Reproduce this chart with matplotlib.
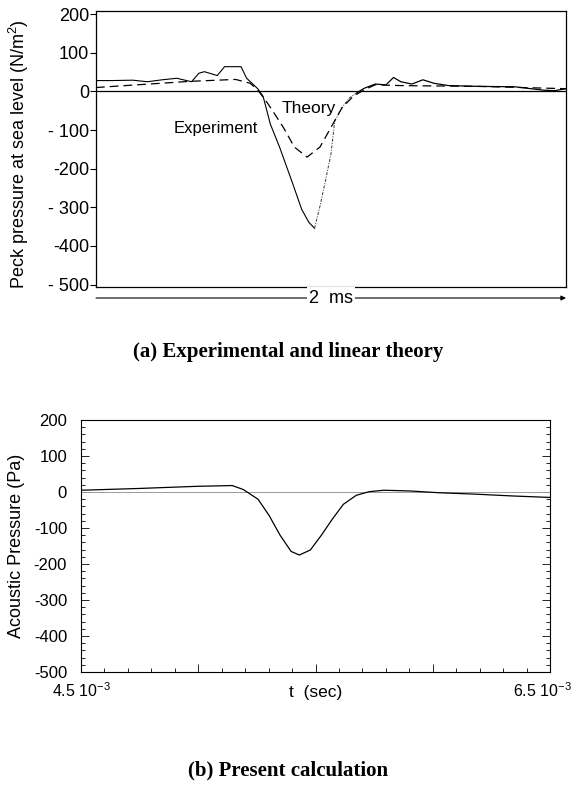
import numpy as np
import matplotlib
matplotlib.use("Agg")
import matplotlib.pyplot as plt
import matplotlib.transforms as mtransforms
from matplotlib.ticker import MultipleLocator, FixedLocator

plt.rcParams['font.family'] = ['Liberation Sans', 'DejaVu Sans']
plt.rcParams['mathtext.default'] = 'regular'
plt.rcParams['axes.unicode_minus'] = False

# ---- (a) measured signature and linear theory (time in ms over a 2 ms window)
exp_t = [0.000, 0.063, 0.156, 0.219, 0.281, 0.344, 0.406, 0.438, 0.461, 0.516,
         0.547, 0.617, 0.641, 0.688, 0.711, 0.742, 0.781, 0.836, 0.875, 0.906,
         0.930, 0.953, 0.977, 1.000, 1.016, 1.047, 1.078, 1.109, 1.141, 1.188,
         1.234, 1.266, 1.297, 1.344, 1.391, 1.438, 1.500, 1.625, 1.781, 1.906,
         1.953, 2.000]
exp_p = [28, 28, 29, 25, 30, 34, 25, 47, 51, 41,
         64, 64, 34, 7, -13, -85, -144, -237, -305, -339,
         -354, -297, -229, -161, -76, -42, -17, -4, 8, 19,
         17, 36, 25, 19, 30, 21, 15, 13, 12, 3,
         2, 7]

thy_t = [0.000, 0.200, 0.400, 0.594, 0.656, 0.688, 0.734, 0.797, 0.844, 0.898,
         0.953, 1.000, 1.047, 1.094, 1.141, 1.188, 1.300, 1.625, 2.000]
thy_p = [10, 18, 26, 31, 21, 4, -34, -93, -144, -170,
         -144, -93, -42, -13, 4, 17, 15, 13, 7]

yticks_a = [200, 100, 0, -100, -200, -300, -400, -500]
ylabels_a = ['200', '100', '0', '- 100', '-200', '- 300', '-400', '- 500']

# ---- (b) computed acoustic pressure (time in seconds)
calc_t = [4.500e-3, 4.750e-3, 5.000e-3, 5.145e-3, 5.192e-3, 5.255e-3, 5.302e-3,
          5.349e-3, 5.396e-3, 5.431e-3, 5.478e-3, 5.525e-3, 5.572e-3, 5.619e-3,
          5.674e-3, 5.729e-3, 5.792e-3, 5.902e-3, 6.028e-3, 6.186e-3, 6.343e-3,
          6.500e-3]
calc_p = [5, 10, 16, 18, 7, -20, -65, -120, -165, -175, -161, -120, -75, -34,
          -9, 1, 5, 3, -2, -6, -11, -15]

xticks_b = [4.5e-3, 5.0e-3, 5.5e-3, 6.0e-3, 6.5e-3]
xlabels_b = ['4.5 10$^{-3}$', '', '', '', '6.5 10$^{-3}$']

fig = plt.figure(figsize=(5.77, 7.86), dpi=100)

# ---------------- panel (a)
ax1 = fig.add_axes([0.1664, 0.6349, 0.8146, 0.3511])
ax1.axhline(0, color='black', lw=0.9)

# the trace is drawn solid, except the faint recovery branch after the minimum
i_min = int(np.argmin(exp_p))
i_back = 27
ax1.plot(exp_t[:i_min + 1], exp_p[:i_min + 1], color='black', lw=0.8)
ax1.plot(exp_t[i_min:i_back + 1], exp_p[i_min:i_back + 1], color='#333333',
         lw=0.7, ls=(0, (3, 1.5, 1, 1.5)))
ax1.plot(exp_t[i_back:], exp_p[i_back:], color='black', lw=0.9)

ax1.plot(thy_t, thy_p, color='black', lw=0.9, ls=(0, (7, 4)))
ax1.set_xlim(0, 2)
ax1.set_ylim(-506, 208)
ax1.set_yticks(yticks_a)
ax1.set_yticklabels(ylabels_a, fontsize=13)
ax1.set_xticks([])
ax1.tick_params(axis='y', direction='out', length=4, width=0.8, pad=1)
for s in ax1.spines.values():
    s.set_linewidth(0.9)
ax1.set_ylabel('Peck pressure at sea level (N/m$^2$)', fontsize=13)
ax1.yaxis.set_label_coords(-0.138, 0.48)
ax1.text(0.79, -44, 'Theory', fontsize=12.5, va='center', ha='left')
ax1.text(0.33, -95, 'Experiment', fontsize=12, va='center', ha='left')

# 2 ms span arrow under the frame
ax1.annotate('', xy=(1.0, -0.04), xytext=(0.0, -0.04),
             xycoords='axes fraction', textcoords='axes fraction',
             arrowprops=dict(arrowstyle='-|>', color='black', lw=0.8,
                             mutation_scale=7, shrinkA=0, shrinkB=0))
ax1.text(0.5, -0.04, '2  ms', transform=ax1.transAxes, ha='center', va='center',
         fontsize=13, bbox=dict(facecolor='white', edgecolor='none', pad=1.5))

fig.text(0.5, 1 - 352 / 786, '(a) Experimental and linear theory',
         ha='center', va='center', fontsize=15, fontweight='bold',
         family='Liberation Serif')

# ---------------- panel (b)
ax2 = fig.add_axes([0.1404, 0.145, 0.8128, 0.3206])
ax2.axhline(0, color='#999999', lw=0.7)
ax2.plot(calc_t, calc_p, color='black', lw=0.9)
ax2.set_xlim(4.5e-3, 6.5e-3)
ax2.set_ylim(-500, 200)
ax2.xaxis.set_major_locator(FixedLocator(xticks_b))
ax2.set_xticklabels(xlabels_b, fontsize=11.5)
ax2.xaxis.set_minor_locator(MultipleLocator(0.1e-3))
ax2.yaxis.set_major_locator(MultipleLocator(100))
ax2.yaxis.set_minor_locator(MultipleLocator(20))
ax2.tick_params(axis='both', which='both', direction='in', right=True, top=False,
                width=0.6)
ax2.tick_params(axis='both', which='major', length=6)
ax2.tick_params(axis='y', which='major', labelsize=12, pad=10)
ax2.tick_params(axis='both', which='minor', length=3)
ax2.tick_params(axis='x', which='major', pad=7)
for s in ax2.spines.values():
    s.set_linewidth(0.8)

# keep the right-hand time label inside the figure edge
last = ax2.get_xticklabels()[-1]
last.set_transform(last.get_transform() +
                   mtransforms.ScaledTranslation(-8 / 100, 0, fig.dpi_scale_trans))

ax2.set_ylabel('Acoustic Pressure (Pa)', fontsize=13)
ax2.yaxis.set_label_coords(-0.12, 0.5)
ax2.set_xlabel('t  (sec)', fontsize=12.5)
ax2.xaxis.set_label_coords(0.5, -0.05)
ax2.xaxis.label.set_va('top')

fig.text(0.5, 1 - 770 / 786, '(b) Present calculation',
         ha='center', va='center', fontsize=15, fontweight='bold',
         family='Liberation Serif')

fig.savefig('out.png', dpi=100)
